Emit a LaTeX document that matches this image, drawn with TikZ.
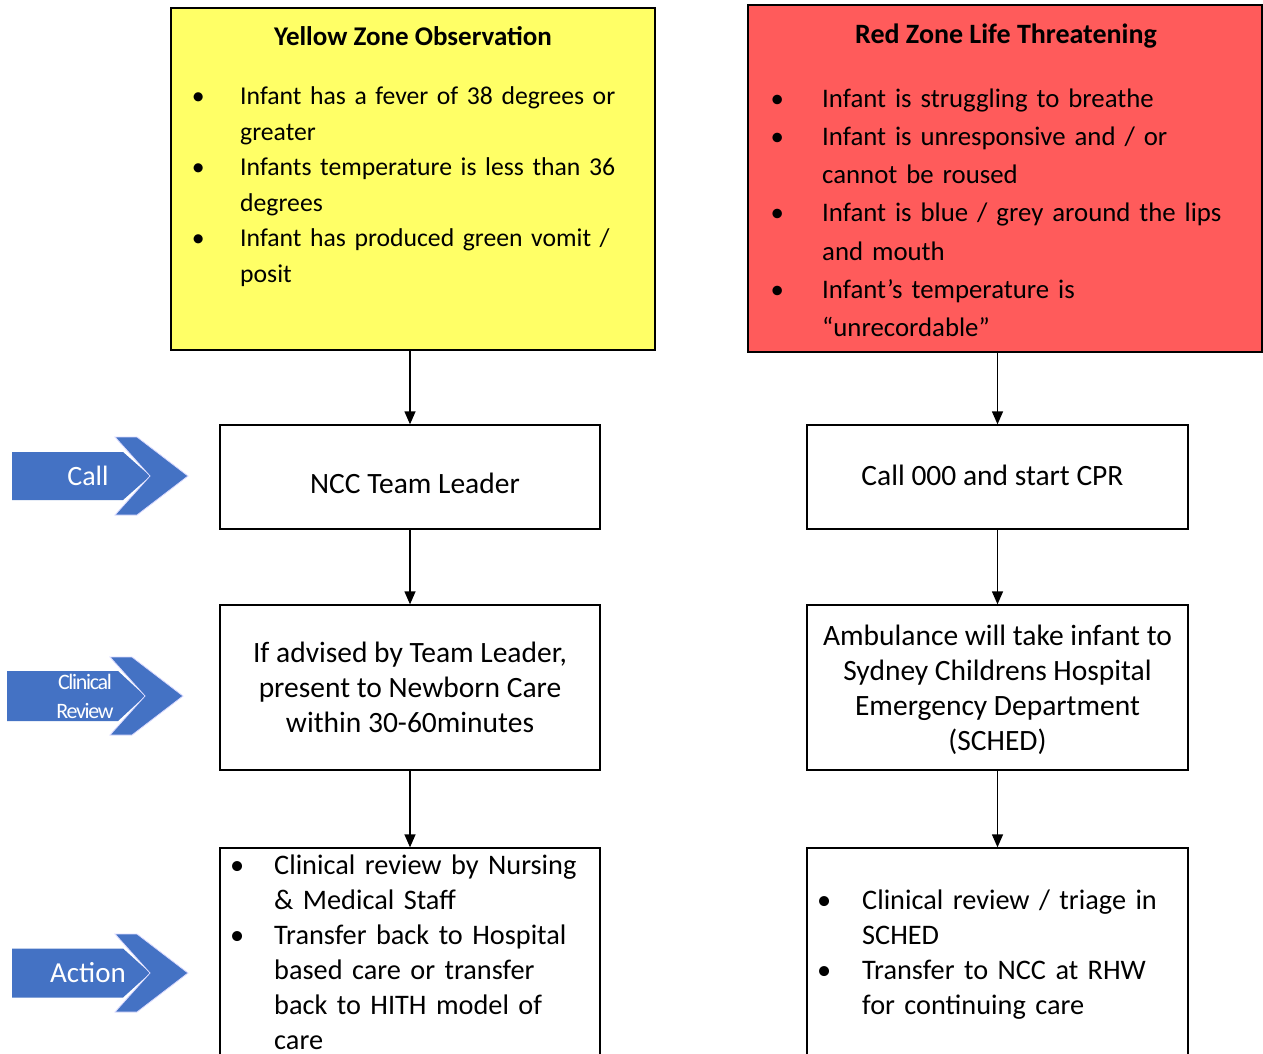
\documentclass[tikz,border=0pt]{standalone}
\usepackage{fontspec}
\setmainfont{Carlito}
\usepackage{xcolor}
\usepackage{tikz}
\usetikzlibrary{positioning, arrows.meta, calc}

\definecolor{zoneyellow}{RGB}{255,255,102}
\definecolor{zonered}{RGB}{255,91,91}
\definecolor{tabblue}{RGB}{68,114,196}

\newlength{\bulind}
\newcommand{\bul}[1]{\par\noindent\hangindent=\bulind\hangafter=1%
  \makebox[\bulind][l]{\makebox[0pt]{\textbullet}}\strut#1\par}

\begin{document}
\begin{tikzpicture}[
    x=1pt, y=-1pt,
    >={Triangle[length=13pt, width=11pt]},
    zonebox/.style={draw=black, line width=2pt, inner sep=0pt},
    stepbox/.style={draw=black, line width=1.3pt, align=center, inner sep=0pt,
                    minimum width=380pt, font=\fontsize{29.5}{35}\selectfont},
    steptext/.style={inner sep=0pt, font=\fontsize{29.5}{35}\selectfont},
    listtext/.style={anchor=north west, inner sep=0pt, text width=#1, align=left},
    titletext/.style={font=\fontsize{27}{30}\selectfont\bfseries},
    tabshape/.style={fill=tabblue},
    tabedge/.style={draw=blue!15, line width=0.8pt},
    tabtext/.style={text=white, align=center},
    conn/.style={line width=1.3pt, ->},
]
  \useasboundingbox (0,0) rectangle (1263,1054);
  \fill[white] (0,0) rectangle (1263,1054);
  % Zone boxes
  \node[zonebox, fill=zoneyellow, minimum width=484pt, minimum height=342pt] (yz) at (413,179) {};
  \node[zonebox, fill=zonered, line width=2.5pt, minimum width=514pt, minimum height=347pt] (rz) at (1005,178.5) {};
  \node[titletext] (yztitle) at (413,36) {Yellow Zone Observation};
  \node[titletext, font=\fontsize{28}{30}\selectfont\bfseries] (rztitle) at (1006,36) {Red Zone Life Threatening};
  % Zone lists
  \setlength{\bulind}{42pt}
  \node[listtext=450pt, font=\fontsize{25.7}{35.5}\selectfont] (yzlist) at (198,69)
    {\bul{Infant has a fever of 38 degrees or\newline greater}
     \bul{Infants temperature is less than 36\newline degrees}
     \bul{Infant has produced green vomit /\newline posit}};
  \setlength{\bulind}{45pt}
  \node[listtext=470pt, font=\fontsize{26.8}{38.2}\selectfont] (rzlist) at (777,69)
    {\bul{Infant is struggling to breathe}
     \bul{Infant is unresponsive and / or\newline cannot be roused}
     \bul{Infant is blue / grey around the lips\newline and mouth}
     \bul{Infant’s temperature is\newline “unrecordable”}};
  % Steps, yellow path
  \node[stepbox, minimum height=104pt] (ncc) at (410,477) {};
  \node[steptext] (ncclabel) at ($(ncc.center)+(5,6)$) {NCC Team Leader};
  \node[stepbox, minimum height=165pt] (review) at (410,687.5)
    {If advised by Team Leader,\\present to Newborn Care\\within 30-60minutes};
  \node[stepbox, minimum height=216pt] (actl) at (410,956) {};
  % Steps, red path
  \node[stepbox, minimum width=381pt, minimum height=104pt] (cpr) at (997.5,477) {};
  \node[steptext] (cprlabel) at ($(cpr.center)+(-5,-2)$) {Call 000 and start CPR};
  \node[stepbox, minimum width=381pt, minimum height=165pt] (amb) at (997.5,687.5) {};
  \node[steptext, align=center] (amblabel) at ($(amb.center)+(0,2)$)
    {Ambulance will take infant to\\Sydney Childrens Hospital\\Emergency Department\\(SCHED)};
  \node[stepbox, minimum width=381pt, minimum height=216pt] (actr) at (997.5,956) {};
  % Action lists
  \setlength{\bulind}{37pt}
  \node[listtext=340pt, font=\fontsize{28.3}{35}\selectfont] (actllist) at (237,839.5)
    {\bul{Clinical review by Nursing\newline \& Medical Staff}
     \bul{Transfer back to Hospital\newline based care or transfer\newline back to HITH model of\newline care}};
  \setlength{\bulind}{38pt}
  \node[listtext=340pt, font=\fontsize{28.3}{35}\selectfont] (actrlist) at (824,874.5)
    {\bul{Clinical review / triage in\newline SCHED}
     \bul{Transfer to NCC at RHW\newline for continuing care}};
  % Side tabs
  \begin{scope}[shift={(0,476)}]
    \fill[tabshape] (12,-24) -- (123,-24) -- (150,0) -- (123,24) -- (12,24) -- cycle;
    \filldraw[tabshape, tabedge] (115,-39) -- (137,-39) -- (188,0) -- (137,39) -- (115,39) -- (150,0) -- cycle;
  \end{scope}
  \begin{scope}[shift={(-5,696)}]
    \fill[tabshape] (12,-25) -- (123,-25) -- (150,0) -- (123,25) -- (12,25) -- cycle;
    \filldraw[tabshape, tabedge] (115,-39) -- (137,-39) -- (188,0) -- (137,39) -- (115,39) -- (150,0) -- cycle;
  \end{scope}
  \begin{scope}[shift={(0,973)}]
    \fill[tabshape] (12,-24.5) -- (123,-24.5) -- (150,0) -- (123,24.5) -- (12,24.5) -- cycle;
    \filldraw[tabshape, tabedge] (115,-39) -- (137,-39) -- (188,0) -- (137,39) -- (115,39) -- (150,0) -- cycle;
  \end{scope}
  \node[tabtext, font=\fontsize{28}{30}\selectfont] (call) at (88,476) {Call};
  \node[tabtext, font=\fontsize{22}{29}\selectfont\addfontfeature{LetterSpace=-6}] (clinical) at (85,696) {Clinical\\Review};
  \node[tabtext, font=\fontsize{29}{30}\selectfont] (action) at (88,973) {Action};
  % Connectors
  \draw[conn] (yz.south -| ncc.north) -- (ncc.north);
  \draw[conn] (ncc) -- (review);
  \draw[conn] (review) -- (actl);
  \draw[conn] (rz.south -| cpr.north) -- (cpr.north);
  \draw[conn] (cpr) -- (amb);
  \draw[conn] (amb) -- (actr);
\end{tikzpicture}
\end{document}
